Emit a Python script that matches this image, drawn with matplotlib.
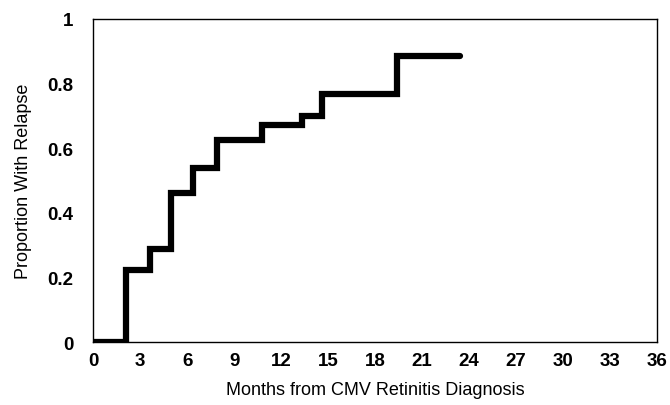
import matplotlib.pyplot as plt

# step times (months) and cumulative proportion relapsed
months = [0, 2.1, 3.6, 5.0, 6.4, 7.9, 10.8, 13.3, 14.6, 19.4, 23.4]
relapse = [0, 0.223, 0.288, 0.461, 0.539, 0.625, 0.672, 0.700, 0.768, 0.885, 0.885]

xticks = list(range(0, 37, 3))
yticks = [0, 0.2, 0.4, 0.6, 0.8, 1]
yticklabels = ["0", "0.2", "0.4", "0.6", "0.8", "1"]

plt.rcParams['font.family'] = ['Liberation Sans', 'DejaVu Sans']

fig = plt.figure(figsize=(6.7, 4.06), dpi=100)
ax = fig.add_axes([0.139, 0.155, 0.842, 0.796])

ax.plot(months, relapse, drawstyle='steps-post', color='black',
        linewidth=4.5, solid_capstyle='round', solid_joinstyle='miter')

ax.set_xlim(0, 36)
ax.set_ylim(0, 1)
ax.set_xticks(xticks)
ax.set_yticks(yticks)
ax.set_yticklabels(yticklabels)
ax.tick_params(length=0, labelsize=13.5)
ax.tick_params(axis='y', pad=14)
ax.tick_params(axis='x', pad=7)
for lab in ax.get_xticklabels() + ax.get_yticklabels():
    lab.set_fontweight('bold')
for s in ax.spines.values():
    s.set_linewidth(1.0)

ax.set_xlabel("Months from CMV Retinitis Diagnosis", fontsize=13, labelpad=9)
ax.set_ylabel("Proportion With Relapse", fontsize=13, labelpad=11)

fig.savefig("out.png", dpi=100)
